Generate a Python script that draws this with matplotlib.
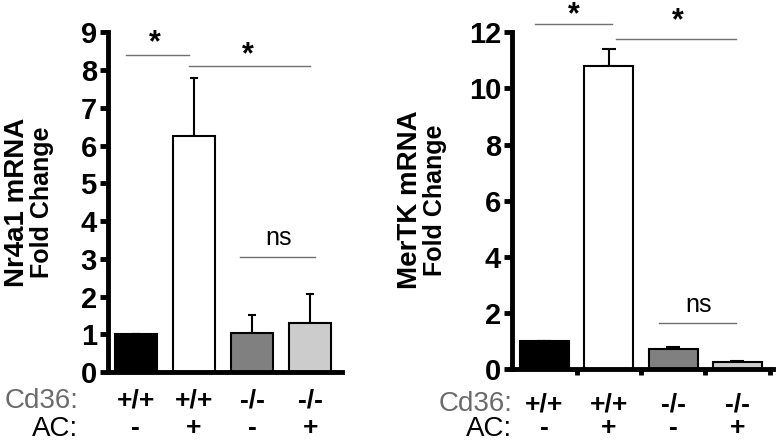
import matplotlib
matplotlib.use("Agg")
import matplotlib.pyplot as plt
import matplotlib.transforms as mtransforms

plt.rcParams['font.family'] = ['Liberation Sans', 'DejaVu Sans']

# datos
cd36 = ["+/+", "+/+", "-/-", "-/-"]
ac = ["-", "+", "-", "+"]
colores = ["black", "white", "#808080", "#cccccc"]

nr4a1 = [1.0, 6.25, 1.03, 1.31]
nr4a1_err = [0.0, 1.55, 0.49, 0.77]

mertk = [1.0, 10.78, 0.71, 0.25]
mertk_err = [0.0, 0.61, 0.07, 0.05]

fig = plt.figure(figsize=(7.76, 4.41), dpi=100)
ax1 = fig.add_axes([0.139, 0.156, 0.302, 0.771])
ax2 = fig.add_axes([0.660, 0.163, 0.336, 0.764])


def panel(ax, vals, errs, ancho, ymax, paso, xlim, cap, filas):
    x = range(len(vals))
    ax.bar(x, vals, width=ancho, color=colores, edgecolor="black", linewidth=1.5, zorder=2)
    ax.errorbar(x, vals, yerr=[[0] * len(errs), errs], fmt="none", ecolor="black",
                elinewidth=1.5, capsize=cap, capthick=1.5, zorder=1)
    ax.set_ylim(0, ymax)
    ax.set_xlim(*xlim)
    ax.set_yticks(range(0, ymax + 1, paso))
    for s in ["top", "right"]:
        ax.spines[s].set_visible(False)
    for s in ["left", "bottom"]:
        ax.spines[s].set_linewidth(3.5)
    ax.tick_params(axis="y", direction="out", length=6, width=3.5, labelsize=21, pad=2)
    for t in ax.get_yticklabels():
        t.set_fontweight("bold")
    ax.set_xticks([])
    trans = mtransforms.blended_transform_factory(ax.transData, ax.transAxes)
    for i in x:
        ax.text(i, filas[0], cd36[i], transform=trans, ha="center", va="center",
                fontsize=19, fontweight="bold")
        ax.text(i, filas[1], ac[i], transform=trans, ha="center", va="center",
                fontsize=19, fontweight="bold")


def barra_sig(ax, x0, x1, y, texto, ty, tx=None, size=20, peso="bold"):
    ax.plot([x0, x1], [y, y], color="#707070", lw=1, clip_on=False)
    if tx is None:
        tx = (x0 + x1) / 2
    ax.text(tx, ty, texto, ha="center", va="center", fontsize=size, fontweight=peso,
            clip_on=False)


panel(ax1, nr4a1, nr4a1_err, 0.72, 9, 1, (-0.48, 3.55), 3, (-0.082, -0.165))
panel(ax2, mertk, mertk_err, 0.76, 12, 2, (-0.5, 3.55), 5, (-0.105, -0.175))

# marcas en los limites de categoria (solo panel derecho)
ax2.set_xticks([0.5, 1.5, 2.5, 3.5], minor=True)
ax2.tick_params(axis="x", which="minor", direction="out", length=4, width=3.5)

barra_sig(ax1, -0.17, 0.92, 8.4, "*", 8.7, tx=0.33, size=22)
barra_sig(ax1, 0.92, 3.0, 8.1, "*", 8.4, tx=1.92, size=22)
barra_sig(ax1, 1.8, 3.08, 3.05, "ns", 3.55, tx=2.45, size=18, peso="normal")

barra_sig(ax2, -0.15, 1.05, 12.3, "*", 12.62, tx=0.45, size=22)
barra_sig(ax2, 1.12, 2.98, 11.75, "*", 12.4, tx=2.07, size=22)
barra_sig(ax2, 1.78, 2.98, 1.63, "ns", 2.3, tx=2.4, size=18, peso="normal")

# etiquetas del eje y en dos lineas de distinto tamaño
fig.text(17 / 776, 1 - 202 / 441, "Nr4a1 mRNA", rotation=90, ha="center", va="center",
         fontsize=20, fontweight="bold")
fig.text(42 / 776, 1 - 202 / 441, "Fold Change", rotation=90, ha="center", va="center",
         fontsize=18, fontweight="bold")
fig.text(410 / 776, 1 - 200 / 441, "MerTK mRNA", rotation=90, ha="center", va="center",
         fontsize=20, fontweight="bold")
fig.text(435 / 776, 1 - 200 / 441, "Fold Change", rotation=90, ha="center", va="center",
         fontsize=18, fontweight="bold")

# etiquetas de filas
fig.text(78 / 776, 1 - 401 / 441, "Cd36:", ha="right", va="center", fontsize=20, color="#6a6a6a")
fig.text(78 / 776, 1 - 429 / 441, "AC:", ha="right", va="center", fontsize=20)
fig.text(512 / 776, 1 - 404 / 441, "Cd36:", ha="right", va="center", fontsize=20, color="#6a6a6a")
fig.text(512 / 776, 1 - 429 / 441, "AC:", ha="right", va="center", fontsize=20)

fig.savefig("out.png", dpi=100)
